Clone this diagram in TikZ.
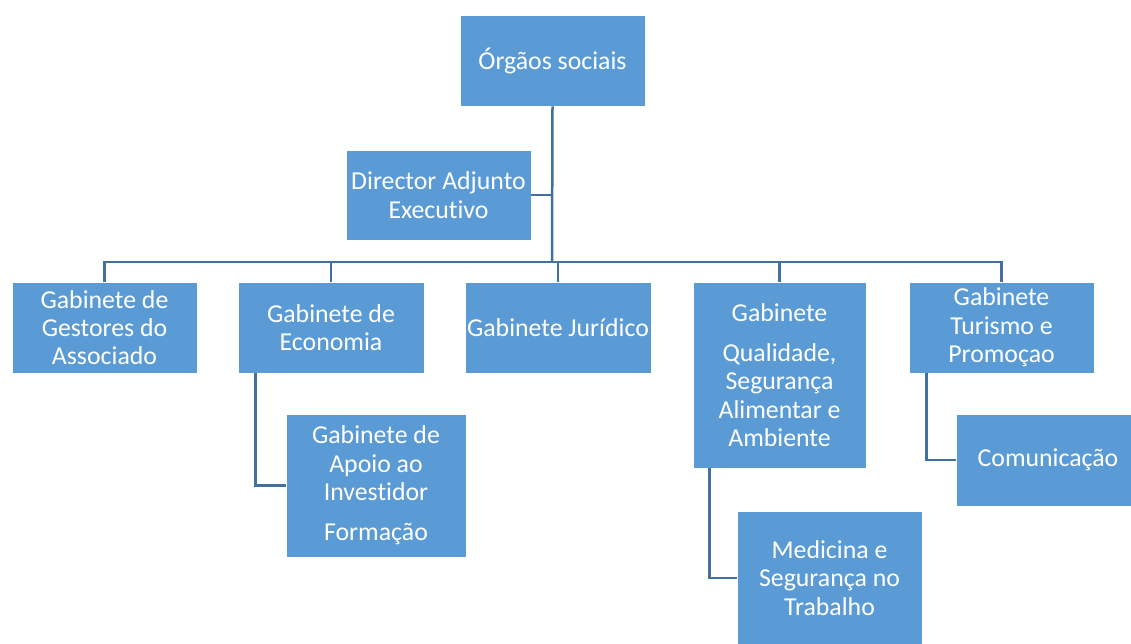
\documentclass[tikz,border=0pt]{standalone}
\usepackage{fontspec}
\setmainfont{Carlito}[Ligatures={NoCommon}]
\definecolor{boxblue}{HTML}{5B9BD5}
\definecolor{linkblue}{HTML}{41719C}
\tikzset{
  box/.style={rectangle, draw=white, line width=0.8pt, fill=boxblue, text=white,
    align=center, inner sep=0pt, font=\fontsize{25.8}{28.3}\selectfont},
  link/.style={draw=linkblue, line width=2.5pt}
}
\begin{document}
\begin{tikzpicture}[x=1pt,y=-1pt]
\useasboundingbox (0,0) rectangle (1131,644);
% boxes
\node[box, minimum width=185pt, minimum height=91pt] (org) at (552.5,60.5) {Órgãos sociais};
\node[box, minimum width=185pt, minimum height=90pt] (dir) at (438.5,195) {Director Adjunto\\Executivo};
\node[box, minimum width=185pt, minimum height=91pt] (gest) at (104.5,327.5) {Gabinete de\\Gestores do\\Associado};
\node[box, minimum width=186pt, minimum height=91pt] (econ) at (331,327.5) {Gabinete de\\Economia};
\node[box, minimum width=186pt, minimum height=91pt] (jur) at (558,327.5) {Gabinete Jurídico};
\node[box, minimum width=173pt, minimum height=186pt] (qual) at (779.5,375) {Gabinete\\[11.7pt]Qualidade,\\Segurança\\Alimentar e\\Ambiente};
\node[box, minimum width=185pt, minimum height=91pt] (tur) at (1001.5,327.5) {Gabinete\\Turismo e\\Promoçao};
\node[box, minimum width=180pt, minimum height=143pt] (apoio) at (376,485.5) {Gabinete de\\Apoio ao\\Investidor\\[11.7pt]Formação};
\node[box, minimum width=185pt, minimum height=134pt] (med) at (829.5,578) {Medicina e\\Segurança no\\Trabalho};
\node[box, minimum width=184pt, minimum height=92pt] (com) at (1048,460) {Comunicação};
% bus
\coordinate (junc) at (552,262);
\draw[link] (org.south) -- (junc);
\draw[link] (dir.east) -- (dir.east -| junc);
\draw[link, line cap=rect] (gest.north |- junc) -- (tur.north |- junc);
\draw[link] (gest.north |- junc) -- (gest.north);
\draw[link] (econ.north |- junc) -- (econ.north);
\draw[link] (jur.north |- junc) -- (jur.north);
\draw[link] (qual.north |- junc) -- (qual.north);
\draw[link] (tur.north |- junc) -- (tur.north);
% sub links
\draw[link] ([xshift=18pt]econ.south west) |- (apoio.west);
\draw[link] ([xshift=17pt]qual.south west) |- (med.west);
\draw[link] ([xshift=18pt]tur.south west) |- (com.west);
\end{tikzpicture}
\end{document}
